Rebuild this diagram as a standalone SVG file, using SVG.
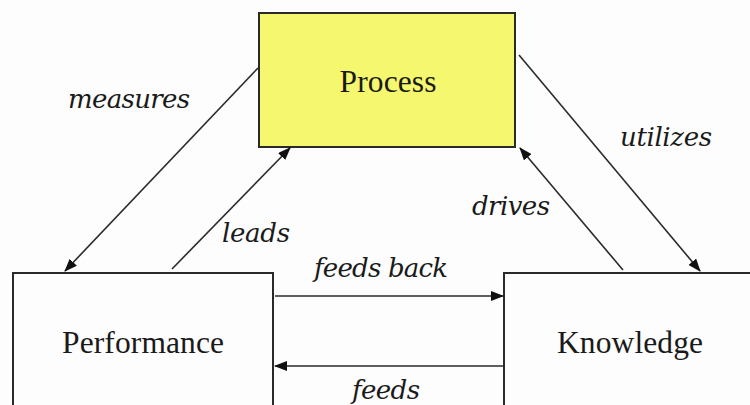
<svg xmlns="http://www.w3.org/2000/svg" width="750" height="405" viewBox="0 0 750 405">
<style>
.box{stroke:#2a2a2a;stroke-width:2}
.node{font-family:"Liberation Serif","Times New Roman",serif;font-size:31.5px;fill:#1a1a1a;text-anchor:middle}
.lbl{font-family:"DejaVu Serif","Liberation Serif",serif;font-style:italic;font-size:26px;fill:#1a1a1a;text-anchor:middle}
.edge{stroke:#2a2a2a;stroke-width:1.6;fill:none;marker-end:url(#ah)}
</style>
<defs>
<marker id="ah" viewBox="0 0 13 10" refX="12" refY="5" markerWidth="13" markerHeight="10" markerUnits="userSpaceOnUse" orient="auto">
<path d="M0,0 L13,5 L0,10 Z" fill="#111"/>
</marker>
</defs>
<rect width="750" height="405" fill="#fdfdfd"/>
<g id="process">
<rect class="box" x="259" y="13" width="256" height="134" fill="#f5f76e"/>
<text class="node" x="388" y="92" textLength="97">Process</text>
</g>
<g id="performance">
<rect class="box" x="13" y="273" width="260" height="140" fill="#fdfdfd"/>
<text class="node" x="143" y="353" textLength="162">Performance</text>
</g>
<g id="knowledge">
<rect class="box" x="504" y="273" width="260" height="140" fill="#fdfdfd"/>
<text class="node" x="630" y="353" textLength="146">Knowledge</text>
</g>
<g id="connectors">
<line class="edge" x1="258" y1="68" x2="65" y2="271"/>
<line class="edge" x1="172" y1="269" x2="290" y2="148"/>
<line class="edge" x1="519" y1="55" x2="700" y2="271"/>
<line class="edge" x1="623" y1="270" x2="520" y2="148"/>
<line class="edge" x1="275" y1="296" x2="503" y2="296"/>
<line class="edge" x1="503" y1="366" x2="275" y2="366"/>
<text class="lbl" x="129" y="108" textLength="122">measures</text>
<text class="lbl" x="256" y="242" textLength="68">leads</text>
<text class="lbl" x="666" y="146" textLength="92">utilizes</text>
<text class="lbl" x="511" y="215" textLength="78">drives</text>
<text class="lbl" x="381" y="277" textLength="134">feeds back</text>
<text class="lbl" x="386" y="399" textLength="68">feeds</text>
</g>
</svg>
